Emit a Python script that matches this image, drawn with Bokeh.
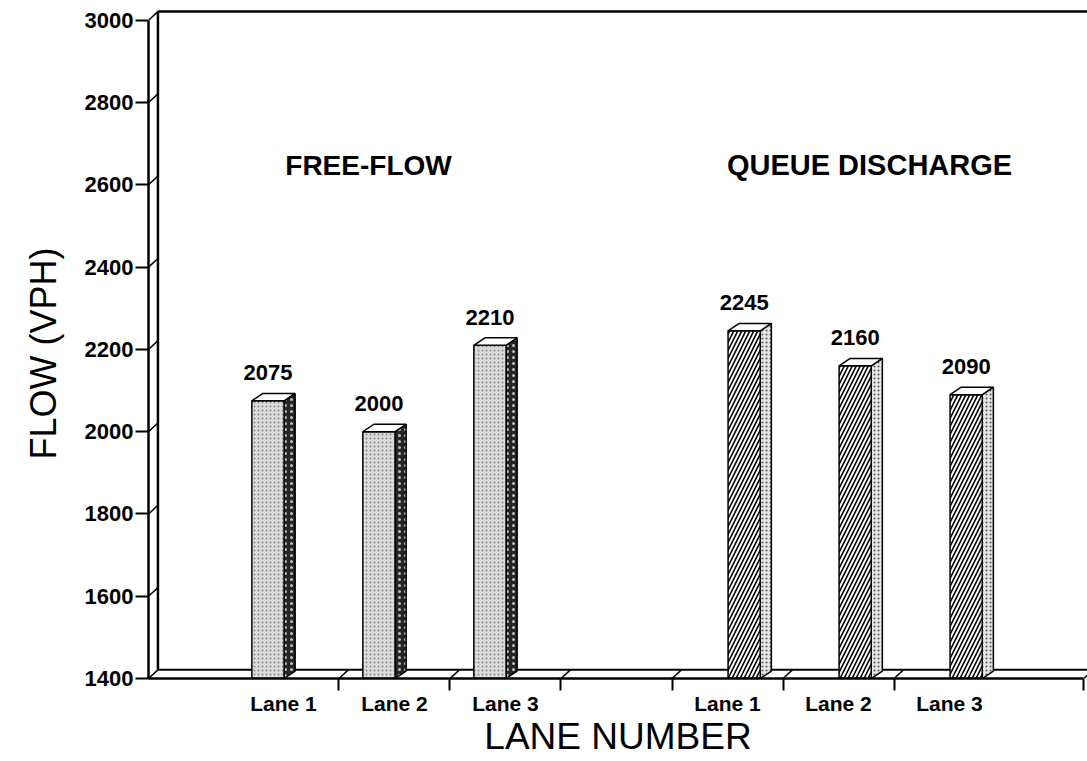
from bokeh.plotting import figure
from bokeh.models import FixedTicker, Range1d, Label, Title
from bokeh.core.properties import value
from bokeh.embed import file_html
from bokeh.resources import INLINE

# ---- data ----
lanes = ["Lane 1", "Lane 2", "Lane 3"]
group_names = ["FREE-FLOW", "QUEUE DISCHARGE"]
free_flow = [2075, 2000, 2210]
queue_discharge = [2245, 2160, 2090]
free_slots = [1, 2, 3]
queue_slots = [5, 6, 7]
y_ticks = [1400, 1600, 1800, 2000, 2200, 2400, 2600, 2800, 3000]
x_tick_marks = [1.5, 2.5, 3.5, 4.5, 5.5, 6.5, 8.21]
x_title = "LANE NUMBER"
y_title = "FLOW (VPH)"

# ---- geometry / style ----
FONT = "Liberation Sans"
X0, X1 = -0.216, 8.243
Y0, Y1 = 1400, 3048
YTOP = 3000
WDX, WDY = 0.085, 21     # back-wall depth offset
BDX, BDY = 0.10, 18      # bar depth offset
BW = 0.29                # bar front width

p = figure(width=1087, height=761, x_range=Range1d(X0, X1), y_range=Range1d(Y0, Y1),
           output_backend="svg", toolbar_location=None,
           min_border_left=148, min_border_right=0, min_border_top=0, min_border_bottom=83)
p.grid.visible = False
p.outline_line_color = None
p.background_fill_color = "white"
p.border_fill_color = "white"

# back wall and floor
p.line([X0 + WDX, X0 + WDX, X1], [Y0 + WDY, YTOP + WDY, YTOP + WDY], line_color="black", line_width=2.5)
p.line([X0 + WDX, X1], [Y0 + WDY, Y0 + WDY], line_color="black", line_width=2)
# diagonal connectors at y ticks
p.segment(x0=[X0] * len(y_ticks), y0=y_ticks, x1=[X0 + WDX] * len(y_ticks),
          y1=[v + WDY for v in y_ticks], line_color="black", line_width=1.5)
# diagonal connectors at x ticks
p.segment(x0=x_tick_marks, y0=[Y0] * len(x_tick_marks), x1=[t + WDX for t in x_tick_marks],
          y1=[Y0 + WDY] * len(x_tick_marks), line_color="black", line_width=1.5)


def draw_bars(slots, vals, left_of, front, side):
    lefts = [left_of(s) for s in slots]
    rights = [l + BW for l in lefts]
    # side faces
    sx = [[r, r, r + BDX, r + BDX] for r in rights]
    sy = [[Y0, v, v + BDY, Y0 + BDY] for v in vals]
    p.patches(sx, sy, line_color="black", line_width=1.5, **side)
    # front faces
    p.quad(left=lefts, right=rights, bottom=[Y0] * len(vals), top=vals,
           line_color="black", line_width=1.5, **front)
    # top faces
    tx = [[l, l + BDX, r + BDX, r] for l, r in zip(lefts, rights)]
    ty = [[v, v + BDY, v + BDY, v] for v in vals]
    p.patches(tx, ty, fill_color="white", line_color="black", line_width=1.5)
    centers = [l + BW / 2 for l in lefts]
    p.text(x=centers, y=vals, text=[str(v) for v in vals], text_align="center",
           text_baseline="middle", y_offset=-28, text_font=value(FONT),
           text_font_style="bold", text_font_size="22px", text_color="black")


draw_bars(free_slots, free_flow, lambda s: s - 0.285,
          front=dict(fill_color="#dcdcdc", hatch_pattern="dot", hatch_color="#8a8a8a",
                     hatch_scale=4, hatch_weight=1),
          side=dict(fill_color="#262626", hatch_pattern="dot", hatch_color="#bbbbbb",
                    hatch_scale=6, hatch_weight=1))
draw_bars(queue_slots, queue_discharge, lambda s: s + 0.005,
          front=dict(fill_color="white", hatch_pattern="right_diagonal_line", hatch_color="black",
                     hatch_scale=8, hatch_weight=1.6),
          side=dict(fill_color="#e6e6e6", hatch_pattern="dot", hatch_color="#555555",
                    hatch_scale=4, hatch_weight=1))

# group titles
for gx, off, name, fs in [(sum(free_slots) / 3, -26, group_names[0], "28px"),
                          (sum(queue_slots) / 3, 31, group_names[1], "29px")]:
    p.add_layout(Label(x=gx, y=2647, x_offset=off, text=name, text_align="center",
                       text_baseline="middle", text_font=FONT, text_font_style="bold",
                       text_font_size=fs, text_color="black"))

# y axis title (as a side title so it can be shifted along the axis)
p.add_layout(Title(text=y_title, align="left", offset=219, vertical_align="bottom", standoff=36,
                   text_font=FONT, text_font_size="36px", text_font_style="normal",
                   text_color="black"), "left")

# y axis
ya = p.yaxis[0]
ya.ticker = FixedTicker(ticks=y_ticks)
ya.bounds = (Y0, YTOP)
ya.axis_line_width = 2.5
ya.major_tick_out = 13
ya.major_tick_in = 0
ya.major_tick_line_width = 2
ya.minor_tick_line_color = None
ya.major_label_standoff = 2
ya.major_label_text_font = FONT
ya.major_label_text_font_style = "bold"
ya.major_label_text_font_size = "22px"
ya.major_label_text_color = "black"

# x axis
all_slots = free_slots + queue_slots
xa = p.xaxis[0]
xa.ticker = FixedTicker(ticks=all_slots, minor_ticks=x_tick_marks)
xa.major_label_overrides = {s: lanes[i % 3] for i, s in enumerate(all_slots)}
xa.bounds = (X0, x_tick_marks[-1])
xa.axis_line_width = 2.5
xa.major_tick_line_color = None
xa.major_tick_out = 12
xa.major_tick_in = 0
xa.minor_tick_out = 12
xa.minor_tick_in = 0
xa.minor_tick_line_width = 2
xa.minor_tick_line_color = "black"
xa.major_label_standoff = 1
xa.major_label_text_font = FONT
xa.major_label_text_font_style = "bold"
xa.major_label_text_font_size = "21px"
xa.major_label_text_color = "black"
xa.axis_label = x_title
xa.axis_label_text_font = FONT
xa.axis_label_text_font_style = "normal"
xa.axis_label_text_font_size = "37px"
xa.axis_label_text_color = "black"
xa.axis_label_standoff = -2

open("out.html", "w").write(file_html(p, INLINE))
